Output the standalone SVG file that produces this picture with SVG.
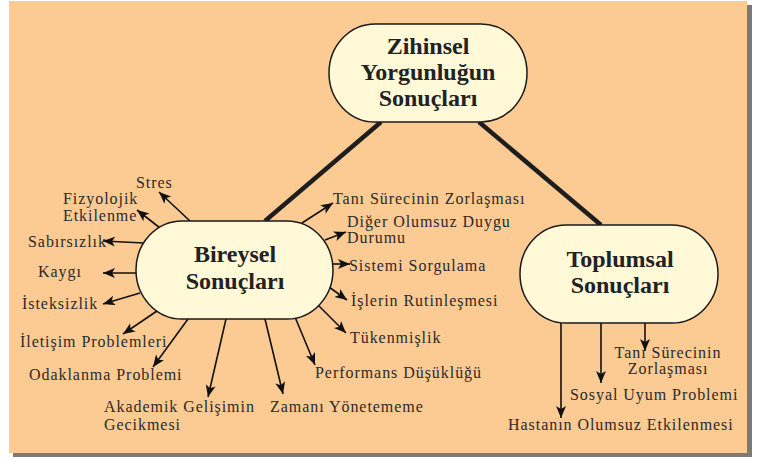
<svg xmlns="http://www.w3.org/2000/svg" width="760" height="461" viewBox="0 0 760 461">
<defs>
<marker id="ah" markerUnits="userSpaceOnUse" markerWidth="14" markerHeight="12" refX="12" refY="5" orient="auto">
<path d="M0,0 L12,5 L0,10 L3,5 Z" fill="#111"/>
</marker>
<style>
.node{fill:#FFF9D8;stroke:#1a1a1a;stroke-width:1.5}
.title{font-family:"Liberation Serif","DejaVu Serif",serif;font-weight:bold;font-size:24px;fill:#222;text-anchor:middle}
.lbl{font-family:"Liberation Serif","DejaVu Serif",serif;font-size:16px;fill:#2a2a2a;letter-spacing:0.95px}
.mid{text-anchor:middle}
.arr{stroke:#111;stroke-width:1.6;fill:none;marker-end:url(#ah)}
.thick{stroke:#1e1e1e;stroke-width:4.5;fill:none}
</style>
</defs>
<rect x="13" y="5" width="739" height="452" fill="#7a7a7a"/>
<rect x="9" y="1" width="738" height="452" fill="#FCCB94"/>
<g id="connectors">
<line class="thick" x1="381" y1="122" x2="265" y2="221"/>
<line class="thick" x1="479" y1="122" x2="601" y2="225"/>
<line class="arr" x1="190" y1="221" x2="159" y2="192"/>
<line class="arr" x1="160" y1="228" x2="137" y2="210"/>
<line class="arr" x1="144" y1="243" x2="103" y2="241"/>
<line class="arr" x1="137" y1="273" x2="103" y2="273"/>
<line class="arr" x1="140" y1="293" x2="103" y2="304"/>
<line class="arr" x1="157" y1="311" x2="123" y2="334"/>
<line class="arr" x1="188" y1="319" x2="153" y2="367"/>
<line class="arr" x1="226" y1="319" x2="208" y2="397"/>
<line class="arr" x1="265" y1="319" x2="283" y2="394"/>
<line class="arr" x1="295" y1="317" x2="315" y2="365"/>
<line class="arr" x1="302" y1="223" x2="333" y2="203"/>
<line class="arr" x1="325" y1="240" x2="346" y2="232"/>
<line class="arr" x1="333" y1="264" x2="350" y2="264"/>
<line class="arr" x1="329" y1="287" x2="347" y2="300"/>
<line class="arr" x1="319" y1="306" x2="346" y2="333"/>
<line class="arr" x1="561" y1="323" x2="561" y2="418"/>
<line class="arr" x1="601" y1="323" x2="601" y2="383"/>
<line class="arr" x1="645" y1="323" x2="645" y2="351"/>
</g>
<g id="node-zihinsel">
<rect class="node" x="329" y="24" width="198" height="98" rx="46" ry="49"/>
<text class="title" x="428" y="54">Zihinsel</text>
<text class="title" x="428" y="80">Yorgunluğun</text>
<text class="title" x="428" y="106">Sonuçları</text>
</g>
<g id="node-bireysel">
<rect class="node" x="136" y="221" width="197" height="98" rx="46" ry="49"/>
<text class="title" x="235" y="262">Bireysel</text>
<text class="title" x="235" y="289">Sonuçları</text>
</g>
<g id="node-toplumsal">
<rect class="node" x="520" y="225" width="198" height="98" rx="46" ry="49"/>
<text class="title" x="620" y="267">Toplumsal</text>
<text class="title" x="620" y="293">Sonuçları</text>
</g>
<g id="labels">
<text class="lbl" x="136" y="188">Stres</text>
<text class="lbl" x="63" y="204">Fizyolojik</text>
<text class="lbl" x="63" y="221">Etkilenme</text>
<text class="lbl" x="28" y="247">Sabırsızlık</text>
<text class="lbl" x="38" y="277">Kaygı</text>
<text class="lbl" x="22" y="309">İsteksizlik</text>
<text class="lbl" x="20" y="347">İletişim Problemleri</text>
<text class="lbl" x="29" y="380">Odaklanma Problemi</text>
<text class="lbl" x="104" y="412">Akademik Gelişimin</text>
<text class="lbl" x="104" y="430">Gecikmesi</text>
<text class="lbl" x="270" y="412">Zamanı Yönetememe</text>
<text class="lbl" x="315" y="378">Performans Düşüklüğü</text>
<text class="lbl" x="333" y="204">Tanı Sürecinin Zorlaşması</text>
<text class="lbl" x="347" y="227">Diğer Olumsuz Duygu</text>
<text class="lbl" x="347" y="243">Durumu</text>
<text class="lbl" x="349" y="271">Sistemi Sorgulama</text>
<text class="lbl" x="351" y="306">İşlerin Rutinleşmesi</text>
<text class="lbl" x="350" y="343">Tükenmişlik</text>
<text class="lbl mid" x="668" y="358">Tanı Sürecinin</text>
<text class="lbl mid" x="668" y="374">Zorlaşması</text>
<text class="lbl" x="570" y="400">Sosyal Uyum Problemi</text>
<text class="lbl" x="508" y="430">Hastanın Olumsuz Etkilenmesi</text>
</g>
</svg>
